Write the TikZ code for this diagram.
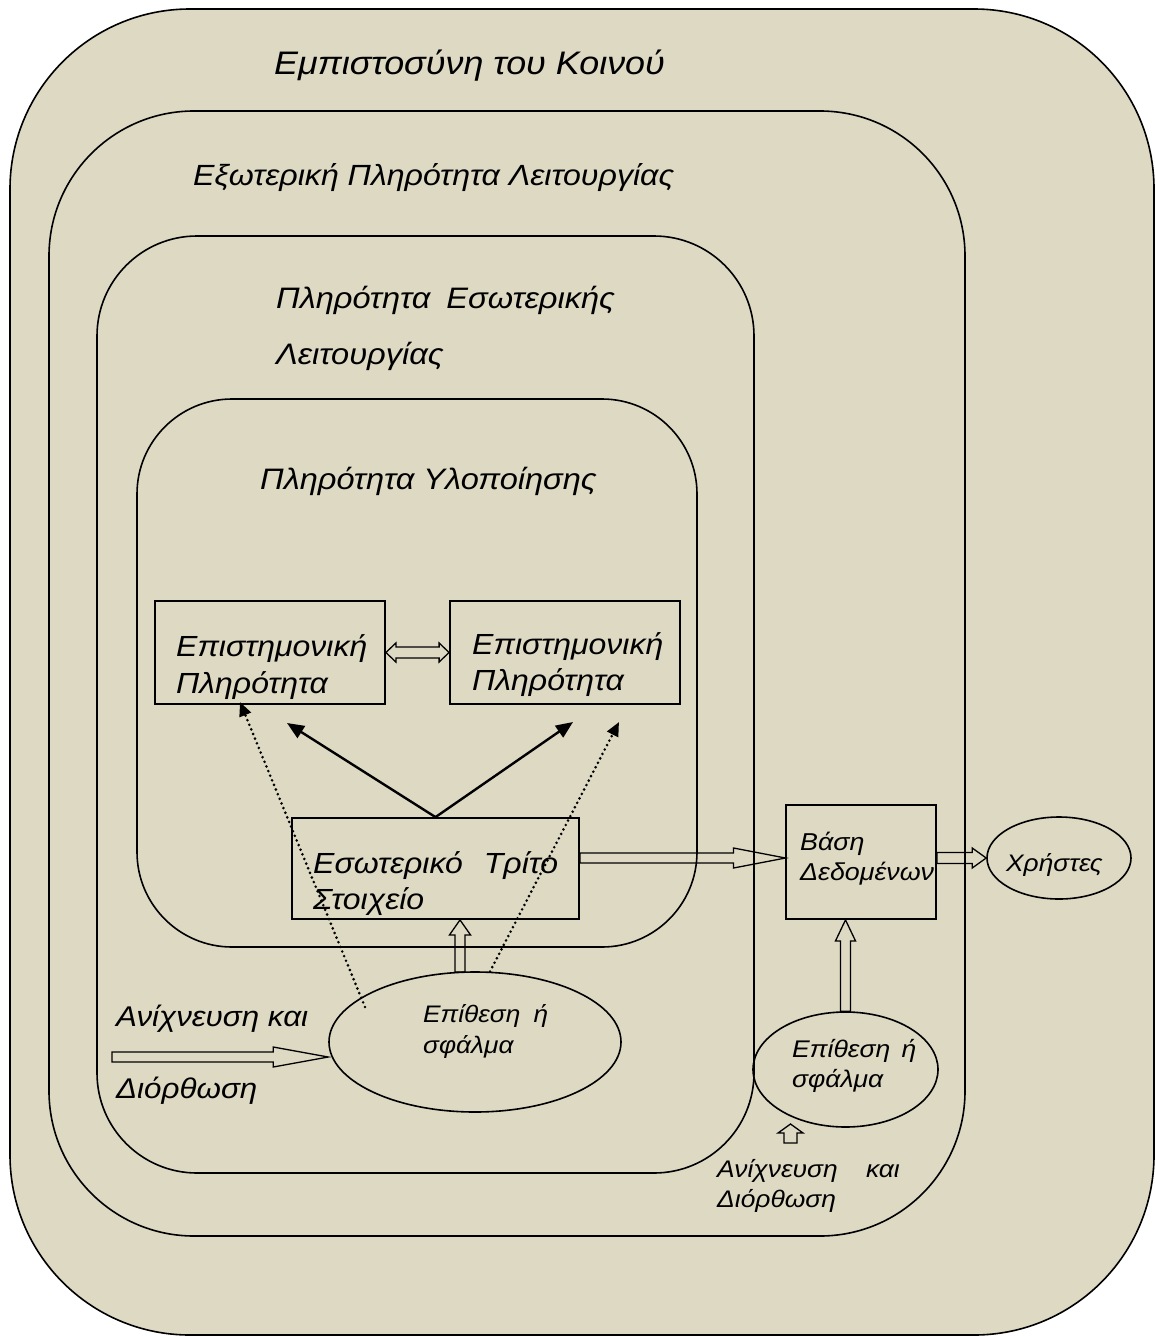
\documentclass[tikz,border=0pt]{standalone}
\usepackage{fontspec}
\setmainfont{Liberation Sans}[FakeStretch=1.1]
\usetikzlibrary{calc,shapes.geometric,arrows.meta}
\definecolor{paper}{RGB}{221,217,195}
\tikzset{
  frame/.style={draw=black, line width=1.6pt, fill=paper},
  box/.style={draw=black, line width=1.8pt, rectangle, inner sep=0pt},
  oval/.style={draw=black, line width=1.6pt, ellipse, inner sep=0pt},
  lbl/.style={anchor=base west, inner sep=0pt, font=\itshape\fontsize{#1}{#1}\selectfont},
  hollow/.style={draw=black, line width=1.3pt, line join=miter},
  solidarrow/.style={line width=2.4pt, -{Triangle[length=17pt,width=14pt]}},
  dotarrow/.style={line width=2.9pt, line cap=round, dash pattern=on 0pt off 5pt,
    -{Triangle[length=14pt,width=12pt]}},
}
% outline arrow: start, tip, shaft half-width, head half-width, head length
\newcommand{\blockarrow}[5]{%
  \path ($(#2)!#5!(#1)$) coordinate (ba);
  \draw[hollow] ($(#1)!#3!90:(#2)$) -- ($(ba)!#3!-90:(#1)$) -- ($(ba)!#4!-90:(#1)$)
    -- (#2) -- ($(ba)!#4!90:(#1)$) -- ($(ba)!#3!90:(#1)$) -- ($(#1)!#3!-90:(#2)$) -- cycle;}
% outline arrow with a head at both ends
\newcommand{\twinarrow}[5]{%
  \path ($(#1)!#5!(#2)$) coordinate (ba1) ($(#2)!#5!(#1)$) coordinate (ba2);
  \draw[hollow] (#1) -- ($(ba1)!#4!90:(#2)$) -- ($(ba1)!#3!90:(#2)$) -- ($(ba2)!#3!-90:(#1)$)
    -- ($(ba2)!#4!-90:(#1)$) -- (#2) -- ($(ba2)!#4!90:(#1)$) -- ($(ba2)!#3!90:(#1)$)
    -- ($(ba1)!#3!-90:(#2)$) -- ($(ba1)!#4!-90:(#2)$) -- cycle;}
\begin{document}
\begin{tikzpicture}[x=1pt,y=-1pt]
\useasboundingbox[fill=white] (0,0) rectangle (1155,1336);

% nested layers
\draw[frame, rounded corners=180pt] (10,9) rectangle (1154,1335);
\draw[frame, rounded corners=145pt] (49,111) rectangle (965,1236);
\draw[frame, rounded corners=100pt] (97,236) rectangle (754,1173);
\draw[frame, rounded corners=95pt] (137,399) rectangle (697,947);

\node[lbl=32.6] (tpublic) at (274,74) {Εμπιστοσύνη του Κοινού};
\node[lbl=29.2] (text) at (193,185) {Εξωτερική Πληρότητα Λειτουργίας};
\node[lbl=29.6] (tinta) at (276,308) {Πληρότητα\hspace{7pt} Εσωτερικής};
\node[lbl=29.6] (tintb) at (276,364) {Λειτουργίας};
\node[lbl=29.6] (timpl) at (260,489) {Πληρότητα Υλοποίησης};

% boxes and ellipses
\node[box, minimum width=230pt, minimum height=103pt] (epl) at (270,652.5) {};
\node[box, minimum width=230pt, minimum height=103pt] (epr) at (565,652.5) {};
\node[box, minimum width=287pt, minimum height=101pt] (mid) at (435.5,868.5) {};
\node[box, minimum width=150pt, minimum height=114pt] (db) at (861,862) {};
\node[oval, minimum width=144pt, minimum height=82pt] (users) at (1059,858) {};
\node[oval, minimum width=292pt, minimum height=140pt] (err) at (475,1042) {};
\node[oval, minimum width=185pt, minimum height=115pt] (err2) at (845.5,1069.5) {};

\node[lbl=29.1] (epla) at (176,656) {Επιστημονική};
\node[lbl=29.1] (eplb) at (176,693) {Πληρότητα};
\node[lbl=29.1] (epra) at (472,654) {Επιστημονική};
\node[lbl=29.1] (eprb) at (472,690) {Πληρότητα};
\node[lbl=29.1] (mida) at (313,873) {Εσωτερικό\hspace{12pt} Τρίτο};
\node[lbl=29.1] (midb) at (313,909) {Στοιχείο};
\node[lbl=24.4] (dba) at (800,850) {Βάση};
\node[lbl=24.4] (dbb) at (800,880) {Δεδομένων};
\node[lbl=23.9] (usr) at (1006,871) {Χρήστες};
\node[lbl=23.9] (erra) at (423,1022) {Επίθεση\hspace{6pt} ή};
\node[lbl=23.9] (errb) at (423,1053) {σφάλμα};
\node[lbl=24.1] (err2a) at (792,1057) {Επίθεση\hspace{4pt} ή};
\node[lbl=24.1] (err2b) at (792,1087) {σφάλμα};
\node[lbl=24] (dcra) at (717,1177) {Ανίχνευση\hspace{21pt} και};
\node[lbl=24] (dcrb) at (717,1207) {Διόρθωση};
\node[lbl=28.5] (dcla) at (116,1026) {Ανίχνευση και};
\node[lbl=28.5] (dclb) at (116,1098) {Διόρθωση};

% solid and dotted arrows
\coordinate (sl) at (287,723);
\coordinate (sr) at (573,722);
\draw[solidarrow] (mid.north) -- (sl);
\draw[solidarrow] (mid.north) -- (sr);
\coordinate (dl0) at (365,1007);
\coordinate (dl1) at (240,702);
\coordinate (dr1) at (619,722);
\draw[dotarrow] (dl0) -- (dl1);
\draw[dotarrow] (err.78) -- (dr1);

% outline arrows
\twinarrow{epl.east}{epr.west}{5.5pt}{9.5pt}{10pt}
\coordinate (u1) at (460,972);
\coordinate (u2) at (u1 |- mid.south);
\blockarrow{u1}{u2}{5pt}{10.5pt}{15pt}
\coordinate (r2) at (785.5,858);
\coordinate (r1) at (r2 -| mid.east);
\blockarrow{r1}{r2}{5pt}{10pt}{52pt}
\coordinate (q2) at (users.west);
\coordinate (q1) at (q2 -| db.east);
\blockarrow{q1}{q2}{5.5pt}{10pt}{14pt}
\coordinate (v1) at (err2.north);
\coordinate (v2) at (v1 |- db.south);
\blockarrow{v1}{v2}{5pt}{10pt}{21pt}
\coordinate (w1) at (790.5,1143);
\coordinate (w2) at (790.5,1124);
\blockarrow{w1}{w2}{6.5pt}{12.5pt}{9pt}
\coordinate (l1) at (112,1057);
\coordinate (l2) at (l1 -| err.west);
\blockarrow{l1}{l2}{5pt}{10pt}{55pt}
\end{tikzpicture}
\end{document}
